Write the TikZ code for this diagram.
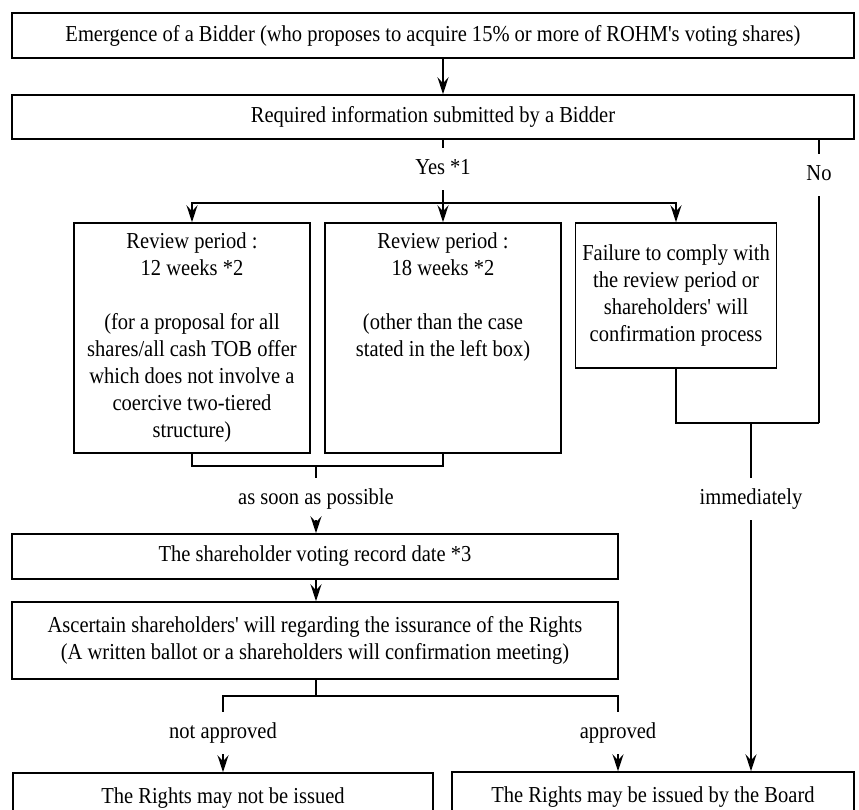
\documentclass[tikz,border=0pt]{standalone}
\usepackage{fontspec}
\setmainfont{Liberation Serif}[FakeStretch=0.9,Ligatures=TeXOff]
\usetikzlibrary{arrows.meta}
\begin{document}
\begin{tikzpicture}[x=1pt,y=-1pt,line width=1.5pt,
  every node/.style={font=\fontsize{22.8}{27}\selectfont},
  box/.style={draw,line width=1.5pt,align=center,inner sep=0pt},
  lbl/.style={inner xsep=2pt,inner ysep=11pt,text height=15pt,text depth=4pt},
  arr/.style={-{Stealth[length=17pt,width=11pt,inset=6pt]}}]
\useasboundingbox (0,0) rectangle (859,809);
\clip (0,0) rectangle (859,809);
% boxes
\node[box,minimum width=842pt,minimum height=45pt] (b1) at (433,35.5)
  {Emergence of a Bidder (who proposes to acquire 15\% or more of ROHM's voting shares)};
\node[box,minimum width=842pt,minimum height=44pt] (b2) at (433,117)
  {Required information submitted by a Bidder};
\node[box,minimum width=236pt,minimum height=230pt] (left) at (192,338)
  {Review period :\\12 weeks *2\\[27pt](for a proposal for all\\shares/all cash TOB offer\\which does not involve a\\coercive two-tiered\\structure)};
\node[box,minimum width=236pt,minimum height=230pt] (mid) at (443,338)
  {Review period :\\18 weeks *2\\[27pt](other than the case\\stated in the left box)\\[27pt]\mbox{}\\\vphantom{()}};
\node[box,minimum width=201pt,minimum height=145pt] (fail) at (676,295.5)
  {Failure to comply with\\the review period or\\shareholders' will\\confirmation process};
\node[box,minimum width=606pt,minimum height=45pt] (rec) at (315,556.5)
  {The shareholder voting record date *3};
\node[box,minimum width=606pt,minimum height=77pt] (asc) at (315,640.5)
  {Ascertain shareholders' will regarding the issurance of the Rights\\(A written ballot or a shareholders will confirmation meeting)};
\node[box,minimum width=420pt,minimum height=50pt] (bl) at (223,798)
  {The Rights may not be issued};
\node[box,minimum width=402pt,minimum height=50pt] (br) at (653,797)
  {The Rights may be issued by the Board};
% labels
\node[lbl] (yes) at (443,169) {Yes *1};
\node[lbl] (no) at (819,175) {No};
\node[lbl] (asap) at (316,499) {as soon as possible};
\node[lbl] (imm) at (751,499) {immediately};
\node[lbl] (nap) at (223,733) {not approved};
\node[lbl] (ap) at (618,733) {approved};
% junctions
\coordinate (c1) at (443,203);
\coordinate (j1) at (316,466);
\coordinate (j2) at (819,423);
\coordinate (j3) at (751,423);
\coordinate (j4) at (316,696);
% connectors
\draw[arr] (b1.south -| yes) -- (b2.north -| yes);
\draw (b2.south -| yes) -- (yes.north);
\draw (yes.south) -- (c1);
\draw[arr] (c1) -| (left.north);
\draw[arr] (c1) -- (mid.north);
\draw[arr] (c1) -| (fail.north);
\draw (b2.south -| no) -- (no.north);
\draw (no.south) -- (j2);
\draw (fail.south) |- (j2);
\draw (j3) -- (imm.north);
\draw[arr] (imm.south) -- (br.north -| imm);
\draw (left.south) |- (j1) -| (mid.south);
\draw (j1) -- (asap.north);
\draw[arr] (asap.south) -- (rec.north -| asap);
\draw[arr] (rec.south -| asap) -- (asc.north -| asap);
\draw (asc.south -| j4) -- (j4);
\draw (nap.north) |- (j4) -| (ap.north);
\draw[arr] (nap.south) -- (bl.north -| nap);
\draw[arr] (ap.south) -- (br.north -| ap);
\end{tikzpicture}
\end{document}
